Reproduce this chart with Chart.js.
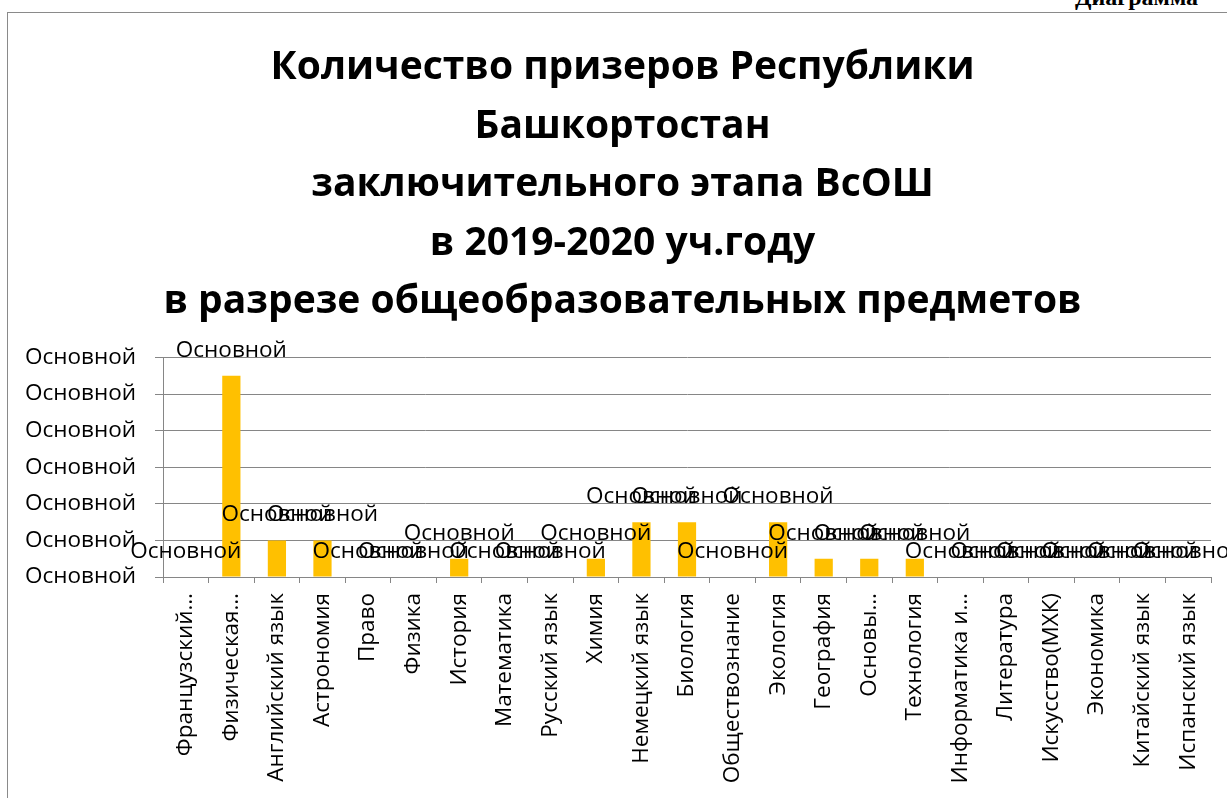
<!DOCTYPE html>
<html>
<head>
<meta charset="utf-8">
<script src="https://cdn.jsdelivr.net/npm/chart.js@4/dist/chart.umd.min.js"></script>
<style>
  html, body { margin: 0; padding: 0; background: #fff; overflow: hidden; }
  #wrap { position: relative; width: 1227px; height: 798px; overflow: hidden; }
  #frame { position: absolute; left: 7px; top: 12px; width: 1400px; height: 900px;
           border-left: 1px solid #8a8a8a; border-top: 1px solid #8a8a8a; }
  #corner { position: absolute; left: 1075px; top: -16px; font: bold 24px "Liberation Serif", serif; color: #000; white-space: nowrap; }
  canvas { position: absolute; left: 0; top: 0; }
</style>
</head>
<body>
<div id="wrap">
  <div id="corner">Диаграмма</div>
  <div id="frame"></div>
  <canvas id="c" width="1227" height="798"></canvas>
</div>
<script>
const titleLines = [
  'Количество призеров Республики',
  'Башкортостан',
  'заключительного этапа ВсОШ',
  'в 2019-2020 уч.году',
  'в разрезе общеобразовательных предметов'
];
const categories = [
  'Французский…', 'Физическая…', 'Английский язык', 'Астрономия', 'Право',
  'Физика', 'История', 'Математика', 'Русский язык', 'Химия',
  'Немецкий язык', 'Биология', 'Обществознание', 'Экология', 'География',
  'Основы…', 'Технология', 'Информатика и…', 'Литература', 'Искусство(МХК)',
  'Экономика', 'Китайский язык', 'Испанский язык'
];
const prizeWinners = [0, 11, 2, 2, 0, 0, 1, 0, 0, 1, 3, 3, 0, 3, 1, 1, 1, 0, 0, 0, 0, 0, 0];
const yTicks = [0, 2, 4, 6, 8, 10, 12];
const valueLabel = 'Основной';

const LABEL_FONT = '22.5px "Open Sans"';
const GRID = '#868686';

const dataLabels = {
  id: 'dataLabels',
  afterDatasetsDraw(chart) {
    const ctx = chart.ctx;
    const meta = chart.getDatasetMeta(0);
    ctx.save();
    ctx.font = LABEL_FONT;
    ctx.fillStyle = '#000';
    ctx.textAlign = 'center';
    ctx.textBaseline = 'alphabetic';
    meta.data.forEach(bar => {
      ctx.fillText(valueLabel, bar.x, bar.y - 19);
    });
    ctx.restore();
  }
};

const shiftTitle = {
  id: 'shiftTitle',
  afterLayout(chart) {
    const t = chart.titleBlock;
    if (t) { t.left += 7; t.right += 7; }
  }
};

new Chart(document.getElementById('c'), {
  type: 'bar',
  data: {
    labels: categories,
    datasets: [{
      data: prizeWinners,
      backgroundColor: '#FFC000',
      borderWidth: 0,
      categoryPercentage: 1,
      barPercentage: 0.4
    }]
  },
  options: {
    responsive: false,
    animation: false,
    layout: { padding: { left: 20, right: 16, top: 0, bottom: 0 } },
    plugins: {
      legend: { display: false },
      tooltip: { enabled: false },
      title: {
        display: true,
        text: titleLines,
        color: '#000',
        font: { family: 'Open Sans', weight: 'bold', size: 39, lineHeight: 1.5 },
        padding: { top: 39, bottom: 26 }
      }
    },
    scales: {
      x: {
        grid: { display: true, drawOnChartArea: false, color: GRID, tickLength: 6, offset: true },
        border: { display: true, color: GRID },
        ticks: {
          autoSkip: false, minRotation: 90, maxRotation: 90,
          color: '#000', font: { family: 'Open Sans', size: 22.5 }, padding: 10
        },
        afterFit(scale) { scale.height = 221; }
      },
      y: {
        min: 0, max: 12,
        afterBuildTicks(scale) { scale.ticks = yTicks.map(v => ({ value: v })); },
        grid: { color: GRID, tickLength: 8 },
        border: { display: true, color: GRID },
        ticks: {
          color: '#000', font: { family: 'Open Sans', size: 22.5 }, padding: 19,
          callback: () => valueLabel
        },
        afterFit(scale) { scale.width = 143; }
      }
    }
  },
  plugins: [dataLabels, shiftTitle]
});
</script>
</body>
</html>
